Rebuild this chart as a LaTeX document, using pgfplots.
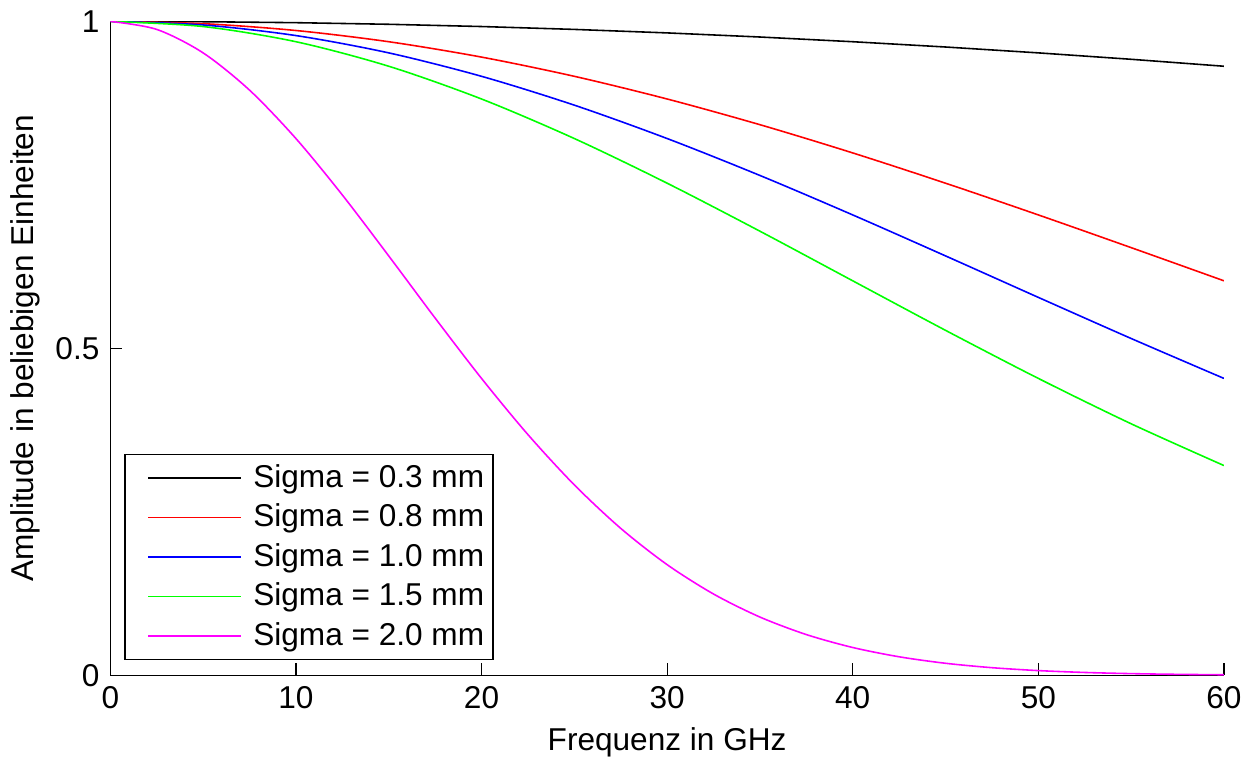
\documentclass[border=0pt]{standalone}
\usepackage{pgfplots}
\pgfplotsset{compat=1.18}
\usepackage{fontspec}
\setmainfont{Liberation Sans}
\definecolor{mgreen}{rgb}{0,1,0}
\definecolor{mmag}{rgb}{1,0,1}
\begin{document}
\fontsize{16}{19}\selectfont
\begin{tikzpicture}
\begin{axis}[
  scale only axis,
  width=562bp, height=330bp,
  xmin=0, xmax=60, ymin=0, ymax=1,
  axis x line=bottom, axis y line=left,
  axis line style={-, line width=0.6bp},
  xtick={0,10,...,60}, ytick={0,0.5,1},
  tick align=inside,
  major tick length=6bp,
  tick style={line width=0.6bp, black},
  /pgf/number format/assume math mode=true,
  ticklabel style={font=\fontsize{16}{19}\selectfont},
  label style={font=\fontsize{16}{19}\selectfont},
  xlabel={Frequenz in GHz},
  ylabel={Amplitude in beliebigen Einheiten},
  xlabel style={yshift=1bp},
  ylabel style={yshift=-3bp},
  legend style={at={(0.0126,0.023)}, anchor=south west,
    font=\fontsize{16}{19}\selectfont, draw=black, line width=0.6bp,
    row sep=2bp, inner xsep=2.5bp, inner ysep=3bp},
  legend cell align=left,
  legend image code/.code={\path (-8.5bp,0bp) (51bp,0bp); \fill[#1, draw=none] (0bp,-0.45bp) rectangle (47bp,0.45bp);},
  every axis plot/.append style={line width=0.8bp},
]
\addplot[black] coordinates {(0,1) (5,0.99951) (10,0.99803) (15,0.99557) (20,0.99214) (25,0.98774) (30,0.98239) (35,0.97611) (40,0.96891) (45,0.96082) (50,0.95185) (55,0.94204) (60,0.93141)};
\addlegendentry{Sigma = 0.3 mm}
\addplot[red, smooth] coordinates {(0,1) (5,0.99650) (10,0.98606) (15,0.96891) (20,0.94540) (25,0.91601) (30,0.88133) (35,0.84203) (40,0.79885) (45,0.75258) (50,0.70404) (55,0.65403) (60,0.60330)};
\addlegendentry{Sigma = 0.8 mm}
\addplot[blue, smooth] coordinates {(0,1) (5,0.99453) (10,0.97831) (15,0.95185) (20,0.91601) (25,0.87190) (30,0.82087) (35,0.76439) (40,0.70404) (45,0.64138) (50,0.57794) (55,0.51509) (60,0.45404)};
\addlegendentry{Sigma = 1.0 mm}
\addplot[mgreen, smooth] coordinates {(0,1) (5,0.99214) (10,0.96891) (15,0.93141) (20,0.88133) (25,0.82087) (30,0.75258) (35,0.67915) (40,0.60330) (45,0.52754) (50,0.45404) (55,0.38466) (60,0.32078)};
\addlegendentry{Sigma = 1.5 mm}
\addplot[mmag, smooth] coordinates {(0,1) (2.5,0.98774) (5,0.95185) (7.5,0.89491) (10,0.82087) (12.5,0.73460) (15,0.64138) (17.5,0.54633) (20,0.45404) (22.5,0.36814) (25,0.29120) (27.5,0.22474) (30,0.16922) (32.5,0.12430) (35,0.08909) (37.5,0.06230) (40,0.04251) (42.5,0.02830) (45,0.01837) (47.5,0.01164) (50,0.00719) (52.5,0.00434) (55,0.00255) (57.5,0.00146) (60,0.00082)};
\addlegendentry{Sigma = 2.0 mm}
\end{axis}
\end{tikzpicture}
\end{document}
